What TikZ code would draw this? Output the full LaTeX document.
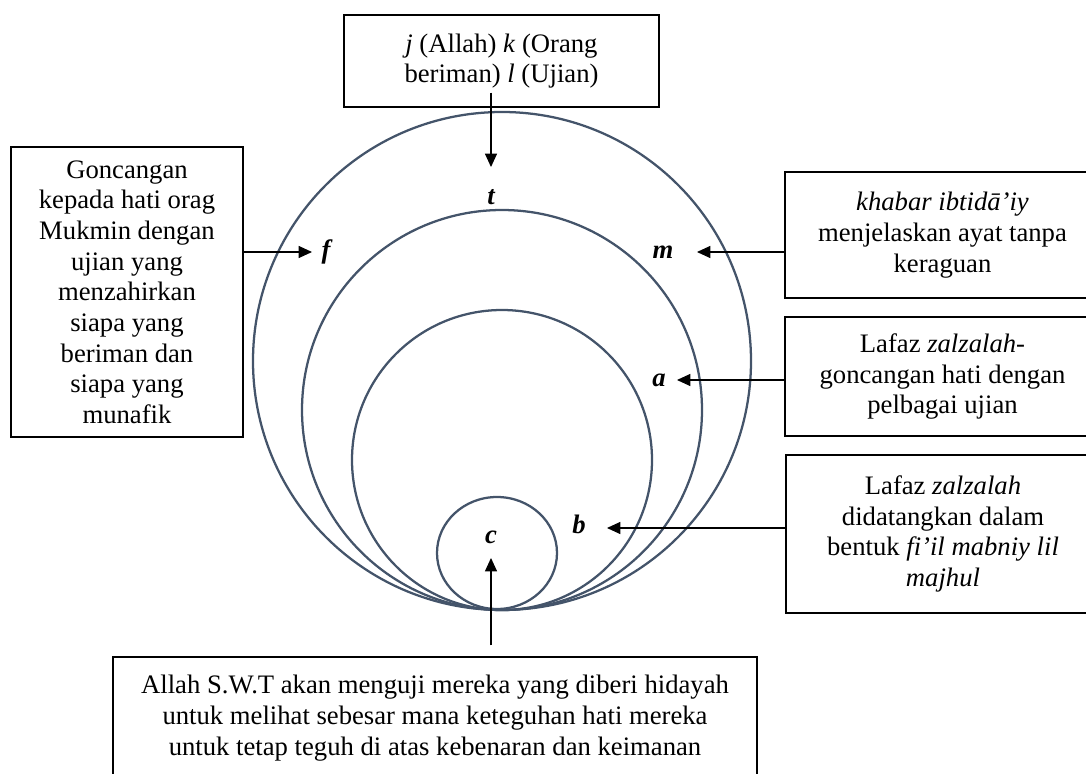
\documentclass[tikz,border=0pt]{standalone}
\usepackage{fontspec}
\setmainfont{Liberation Serif}
\usetikzlibrary{arrows.meta,calc}
\definecolor{ringc}{HTML}{44546A}
\begin{document}
\begin{tikzpicture}[x=0.75pt,y=-0.75pt,
  every node/.style={font=\fontsize{20}{23}\selectfont},
  box/.style={draw=black,line width=1.1pt,fill=white,align=center,inner sep=0pt},
  ring/.style={draw=ringc,line width=1.7pt},
  arr/.style={draw=black,line width=0.8pt,-{Triangle[length=10pt,width=9pt]}},
  lab/.style={font=\fontsize{20}{23}\selectfont\bfseries\itshape,inner sep=1pt}]
\useasboundingbox (0,0) rectangle (1086,774);

% circles
\draw[ring] (502,361) circle[radius=249];
\draw[ring] (502,410) circle[radius=200];
\draw[ring] (502,460) circle[radius=150];
\draw[ring] (497,553) ellipse[x radius=60,y radius=56];

% boxes
\node[box,minimum width=236.25pt,minimum height=69pt] (top) at (501.5,61)
  {\textit{j} (Allah) \textit{k} (Orang\\beriman) \textit{l} (Ujian)};
\node[box,minimum width=174pt,minimum height=217.5pt] (left) at (127,292)
  {Goncangan\\kepada hati orag\\Mukmin dengan\\ujian yang\\menzahirkan\\siapa yang\\beriman dan\\siapa yang\\munafik};
\node[box,minimum width=236.25pt,minimum height=94.5pt] (r1) at (942.5,235)
  {\textit{khabar ibtidā’iy}\\menjelaskan ayat tanpa\\keraguan};
\node[box,minimum width=236.25pt,minimum height=89.25pt] (r2) at (942.5,376.5)
  {Lafaz \textit{zalzalah-}\\goncangan hati dengan\\pelbagai ujian};
\node[box,minimum width=235.5pt,minimum height=118.5pt] (r3) at (943,534)
  {Lafaz \textit{zalzalah}\\didatangkan dalam\\bentuk \textit{fi’il mabniy lil}\\\textit{majhul}};
\node[box,minimum width=483pt,minimum height=91.5pt] (bot) at (435,718)
  {Allah S.W.T akan menguji mereka yang diberi hidayah\\untuk melihat sebesar mana keteguhan hati mereka\\untuk tetap teguh di atas kebenaran dan keimanan};

% labels
\node[lab] (tl) at (491,197) {t};
\node[lab] (fl) at (326,252) {f};
\node[lab] (ml) at (663,252) {m};
\node[lab] (al) at (659,380) {a};
\node[lab] (bl) at (579,524) {b};
\node[lab] (cl) at (491,537) {c};

% arrow tips
\coordinate (ttip) at (491,167);
\coordinate (ftip) at (312,252);
\coordinate (mtip) at (697,252);
\coordinate (atip) at (677,380);
\coordinate (btip) at (607,528);
\coordinate (ctip) at (491,558);

% connectors
\draw[arr] ($(top.south -| tl)+(0,-15)$) -- (ttip);
\draw[arr] (left.east |- ftip) -- (ftip);
\draw[arr] (r1.west |- mtip) -- (mtip);
\draw[arr] (r2.west |- atip) -- (atip);
\draw[arr] (r3.west |- btip) -- (btip);
\draw[arr] ($(bot.north -| cl)+(0,-11)$) -- (ctip);
\end{tikzpicture}
\end{document}
